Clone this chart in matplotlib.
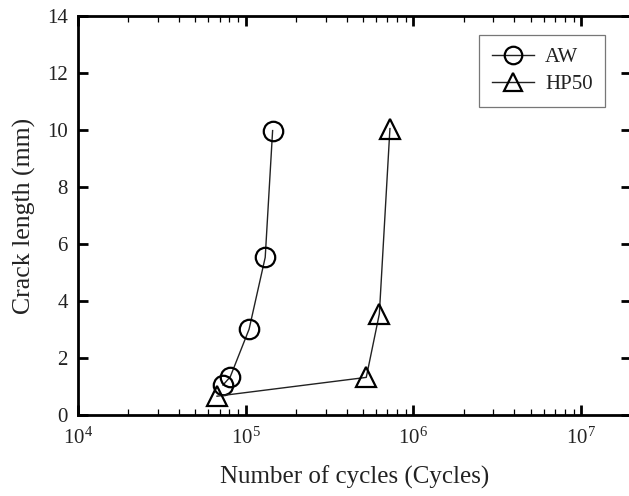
import numpy as np
import matplotlib
matplotlib.use('Agg')
from matplotlib import pyplot as plt
from matplotlib.ticker import LogLocator, NullFormatter

plt.rcParams['font.family'] = ['Liberation Serif', 'DejaVu Serif']
plt.rcParams['mathtext.fontset'] = 'custom'
plt.rcParams['mathtext.rm'] = 'Liberation Serif'

# values
aw_cycles = [73400, 81100, 105000, 131000, 145000]
aw_crack = [1.05, 1.34, 3.01, 5.53, 9.98]
hp_cycles = [67600, 524000, 627000, 725000]
hp_crack = [0.66, 1.32, 3.55, 10.05]

fig = plt.figure(figsize=(6.29, 4.96), dpi=100)
ax = fig.add_axes([0.1235, 0.1633, 0.8797, 0.8044])

ax.plot(aw_cycles, aw_crack, color='#222222', lw=1.0, marker='o', ms=14,
        mfc='none', mec='k', mew=1.6, label='AW')
ax.plot(hp_cycles, hp_crack, color='#222222', lw=1.0, marker='^', ms=14,
        mfc='none', mec='k', mew=1.6, label='HP50')

ax.set_xscale('log')
ax.set_xlim(1e4, 1.98e7)
ax.set_ylim(0, 14)
ax.set_yticks(np.arange(0, 15, 2))
ax.xaxis.set_major_locator(LogLocator(base=10, numticks=10))
ax.xaxis.set_minor_locator(LogLocator(base=10, subs=np.arange(2, 10), numticks=20))
ax.xaxis.set_minor_formatter(NullFormatter())

for s in ax.spines.values():
    s.set_linewidth(2.0)
ax.tick_params(which='major', direction='in', length=7, width=2.0,
               top=True, right=True, labelsize=15, pad=7, colors='k',
               labelcolor='#222222')
ax.tick_params(which='minor', direction='in', length=4, width=0.9,
               top=True, right=True)
ax.tick_params(axis='x', which='major', pad=9)

ax.set_xlabel('Number of cycles (Cycles)', fontsize=18, labelpad=12, color='#222222')
ax.set_ylabel('Crack length (mm)', fontsize=18.5, labelpad=8, color='#222222')

leg = ax.legend(loc='upper right', bbox_to_anchor=(0.953, 0.952), fontsize=15,
                frameon=True, fancybox=False, edgecolor='#555555',
                handlelength=2.05, handletextpad=0.5, borderpad=0.6,
                labelspacing=0.35, borderaxespad=0, markerscale=0.9)
leg.get_frame().set_linewidth(0.9)
for t in leg.get_texts():
    t.set_color('#222222')

fig.savefig('out.png', dpi=100)
